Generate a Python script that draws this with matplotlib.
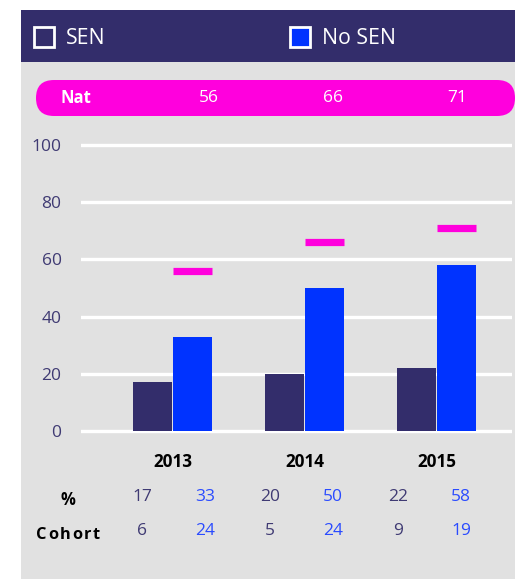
import matplotlib.pyplot as plt
from matplotlib.patches import Rectangle, FancyBboxPatch

plt.rcParams['font.family'] = ['Open Sans', 'DejaVu Sans']

# attainment data
years = ['2013', '2014', '2015']
sen_pct = [17, 20, 22]
nosen_pct = [33, 50, 58]
national = [56, 66, 71]
sen_cohort = [6, 5, 9]
nosen_cohort = [24, 24, 19]
yticks = [0, 20, 40, 60, 80, 100]

NAVY = '#332d6b'
BLUE = '#0033ff'
MAGENTA = '#ff00dd'
GREY = '#e1e1e1'
TICK = '#3f3a73'
BLUE_TXT = '#2a4bff'

W, H = 515, 579
fig = plt.figure(figsize=(W / 100, H / 100), dpi=100)
fig.patch.set_facecolor('white')

# background layer in pixel units (origin top-left)
bg = fig.add_axes([0, 0, 1, 1])
bg.set_xlim(0, W)
bg.set_ylim(H, 0)
bg.axis('off')
bg.add_patch(Rectangle((21, 62), W - 21, H - 62, color=GREY, lw=0))
bg.add_patch(Rectangle((21, 10), W - 21, 52, color=NAVY, lw=0))

# legend in header
bg.add_patch(Rectangle((34, 27), 20, 20, facecolor=NAVY, edgecolor='white', lw=2))
bg.text(66, 38, 'SEN', color='white', fontsize=15.3, va='center', ha='left')
bg.add_patch(Rectangle((290, 27), 20, 20, facecolor=BLUE, edgecolor='white', lw=2))
bg.text(322, 38, 'No SEN', color='white', fontsize=15.3, va='center', ha='left')

# national average pill
bg.add_patch(FancyBboxPatch((36, 80), 479, 36, boxstyle='round,pad=0,rounding_size=18',
                            facecolor=MAGENTA, edgecolor='none'))
bg.text(60, 98, 'Nat', color='white', fontsize=12, fontweight='bold', va='center')

# bar chart
px_unit = (431 - 145) / 100
ylo, yhi = -3, 103
top_px = 145 - (yhi - 100) * px_unit
bot_px = 431 - ylo * px_unit
group_px = 132
c0 = 172.5
ax = fig.add_axes([81 / W, 1 - bot_px / H, (512 - 81) / W, (bot_px - top_px) / H])
ax.set_facecolor('none')
ax.set_xlim((81 - c0) / group_px, (512 - c0) / group_px)
ax.set_ylim(ylo, yhi)
for s in ax.spines.values():
    s.set_visible(False)

for v in yticks:
    ax.axhline(v, color='white', lw=2.4, zorder=0)

x = list(range(len(years)))
bw = 39 / group_px
off = 20 / group_px
ax.bar([i - off for i in x], sen_pct, width=bw, color=NAVY, zorder=2)
ax.bar([i + off for i in x], nosen_pct, width=bw, color=BLUE, zorder=2)
ax.errorbar([i + off for i in x], national, xerr=bw / 2, fmt='none',
            ecolor=MAGENTA, elinewidth=5.2, capsize=0, zorder=3)

ax.set_xticks([])
ax.set_yticks(yticks)
ax.set_yticklabels([str(v) for v in yticks])
ax.tick_params(axis='y', length=0, pad=14, labelsize=12.5, labelcolor=TICK)

to_px = lambda xv: 81 + (xv - ax.get_xlim()[0]) * group_px
for i in x:
    bg.text(209 + 124 * i, 98, str(national[i]), color='white', fontsize=12.5, ha='center', va='center')
    bg.text(to_px(i), 462, years[i], color='black', fontsize=12.3, fontweight='bold', ha='center', va='center')
    xs, xn = 142 + 128 * i, 205 + 128 * i
    bg.text(xs, 497, str(sen_pct[i]), color=TICK, fontsize=12.5, ha='center', va='center')
    bg.text(xn, 497, str(nosen_pct[i]), color=BLUE_TXT, fontsize=12.5, ha='center', va='center')
    bg.text(xs, 531, str(sen_cohort[i]), color=TICK, fontsize=12.5, ha='center', va='center')
    bg.text(xn, 531, str(nosen_cohort[i]), color=BLUE_TXT, fontsize=12.5, ha='center', va='center')

bg.text(68, 500, '%', color='black', fontsize=12, fontweight='bold', ha='center', va='center')

# row label with letter spacing
fig.canvas.draw()
renderer = fig.canvas.get_renderer()
xpos = 36
for ch in 'Cohort':
    t = bg.text(xpos, 535, ch, color='black', fontsize=11.8, fontweight='bold', ha='left', va='center')
    bb = t.get_window_extent(renderer)
    xpos += bb.width + 1.5

fig.savefig('out.png', dpi=100)
